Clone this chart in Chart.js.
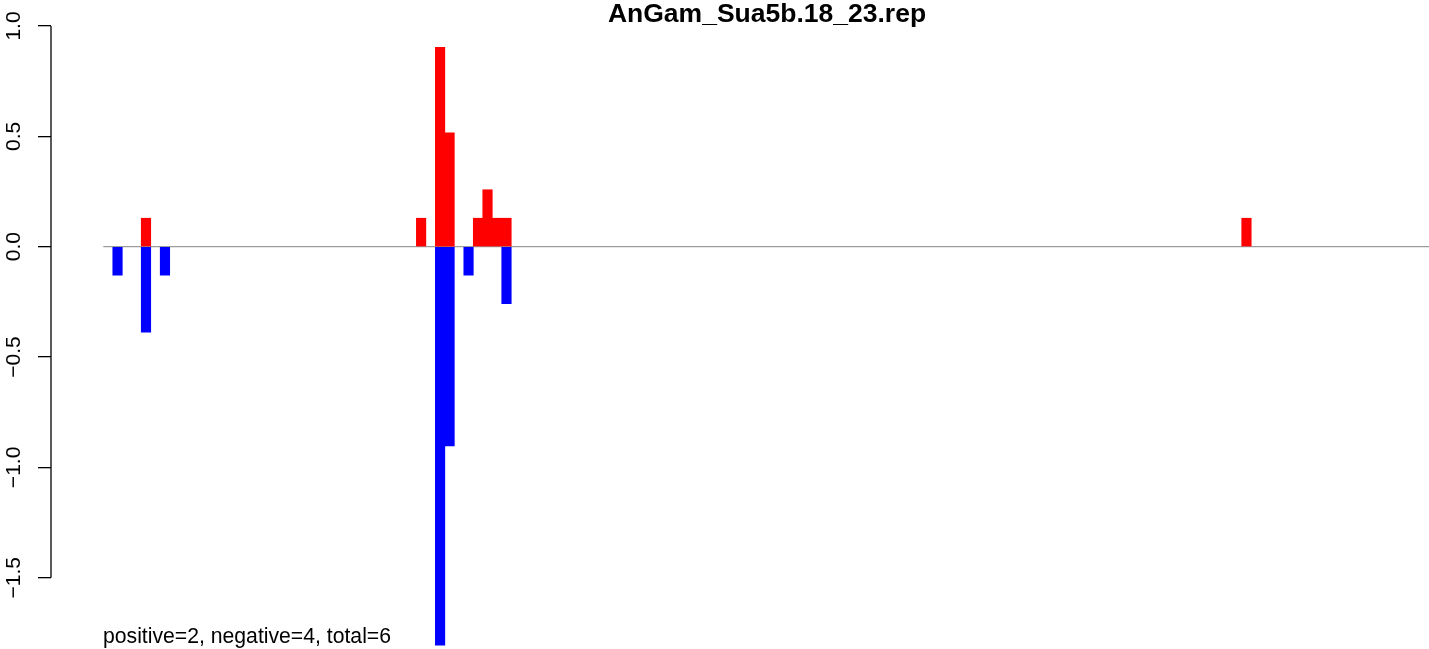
<!DOCTYPE html>
<html>
<head>
<meta charset="utf-8">
<title>AnGam_Sua5b.18_23.rep</title>
<script src="https://cdn.jsdelivr.net/npm/chart.js@4.4.1/dist/chart.umd.min.js"></script>
<style>
  html, body { margin: 0; padding: 0; background: #fff; overflow: hidden; }
  #wrap { width: 1429px; height: 649px; }
</style>
</head>
<body>
<div id="wrap"><canvas id="grafico" width="1429" height="649"></canvas></div>
<script>
const titulo = 'AnGam_Sua5b.18_23.rep';
const resumen = 'positive=2, negative=4, total=6';

// bin index along the sequence, one bar slot per bin
const bins = [1, 4, 6, 33, 35, 36, 38, 39, 40, 41, 42, 120];
const positivos = [null, 0.129, null, 0.129, 0.903, 0.516, null, 0.129, 0.258, 0.129, 0.129, 0.129];
const negativos = [-0.129, -0.387, -0.129, null, -1.806, -0.903, -0.129, null, null, null, -0.258, null];
const yTicks = [-1.5, -1.0, -0.5, 0.0, 0.5, 1.0];
const totalBins = 140;

const fuente = 'Liberation Sans, Arial, Helvetica, sans-serif';

// axis line (only between first and last tick), title and summary text
const extras = {
    id: 'extras',
    afterDraw(chart) {
        const ctx = chart.ctx;
        const y = chart.scales.y;
        const area = chart.chartArea;
        ctx.save();
        ctx.strokeStyle = '#000';
        ctx.lineWidth = 1.3;
        ctx.beginPath();
        ctx.moveTo(area.left, y.getPixelForValue(yTicks[yTicks.length - 1]));
        ctx.lineTo(area.left, y.getPixelForValue(yTicks[0]));
        ctx.stroke();

        ctx.fillStyle = '#000';
        ctx.textBaseline = 'alphabetic';
        ctx.textAlign = 'center';
        ctx.font = 'bold 26.5px ' + fuente;
        ctx.fillText(titulo, 767, 22);

        ctx.textAlign = 'left';
        ctx.font = '21.2px ' + fuente;
        ctx.fillText(resumen, 103, 643);
        ctx.restore();
    }
};

const ctx = document.getElementById('grafico').getContext('2d');

window.miGrafico = new Chart(ctx, {
    type: 'bar',
    data: {
        datasets: [
            {
                label: 'positive',
                data: bins.map((b, i) => ({ x: b + 0.5, y: positivos[i] })),
                backgroundColor: '#FF0000',
                borderWidth: 0,
                grouped: false,
                barPercentage: 1,
                categoryPercentage: 1,
                order: 1
            },
            {
                label: 'negative',
                data: bins.map((b, i) => ({ x: b + 0.5, y: negativos[i] })),
                backgroundColor: '#0000FF',
                borderWidth: 0,
                grouped: false,
                barPercentage: 1,
                categoryPercentage: 1,
                order: 1
            },
            {
                type: 'line',
                label: 'zero',
                data: [{ x: 0, y: 0 }, { x: totalBins, y: 0 }],
                borderColor: '#9c9c9c',
                borderWidth: 1.3,
                pointRadius: 0,
                order: 5
            }
        ]
    },
    options: {
        responsive: false,
        animation: false,
        devicePixelRatio: 1,
        layout: {
            padding: { top: 26, left: 0, right: 0, bottom: 0 }
        },
        plugins: {
            legend: { display: false },
            tooltip: { enabled: false },
            title: { display: false }
        },
        scales: {
            x: {
                type: 'linear',
                display: false,
                offset: false,
                bounds: 'data',
                min: -5.513,
                max: 139.74,
                ticks: { stepSize: 100 }
            },
            y: {
                min: -1.8228,
                max: 1.0,
                border: { display: false },
                grid: {
                    drawOnChartArea: false,
                    drawTicks: true,
                    tickLength: 13,
                    color: '#000',
                    lineWidth: 1.3
                },
                ticks: {
                    color: '#000',
                    font: { family: fuente, size: 21 },
                    minRotation: 90,
                    maxRotation: 90,
                    crossAlign: 'center',
                    padding: 3,
                    callback: (v) => v.toFixed(1).replace('-', '\u2212')
                },
                afterBuildTicks: (scale) => {
                    scale.ticks = yTicks.map(v => ({ value: v }));
                },
                afterFit: (scale) => {
                    scale.width = 51;
                    scale.paddingTop = 0;
                    scale.paddingBottom = 0;
                }
            }
        }
    },
    plugins: [extras]
});
</script>
</body>
</html>
